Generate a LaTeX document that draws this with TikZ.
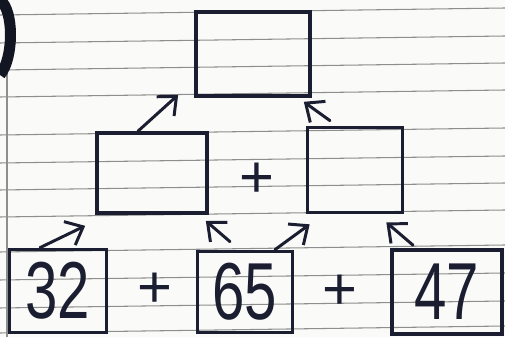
\documentclass[tikz,border=0pt]{standalone}
\usepackage{fontspec}
\setmainfont{Liberation Sans}
\usetikzlibrary{arrows.meta, positioning, calc}
\definecolor{Ink}{HTML}{1A1E30}
\definecolor{Rule}{HTML}{8E8E8E}
\definecolor{Paper}{HTML}{FAFAF8}

\begin{document}
\begin{tikzpicture}[
  x=0.02cm, y=-0.02cm,
  font=\fontsize{46}{46}\selectfont,
  slot/.style={draw=Ink, line width=2.1pt, inner sep=0pt, text=Ink},
  plus/.style={text=Ink, font=\fontsize{34}{34}\selectfont, inner sep=0pt},
  arrow/.style={-{Straight Barb[length=3mm, width=5.2mm]}, line width=1.7pt, line cap=round, draw=Ink},
  ruled/.style={draw=Rule, line width=0.6pt}
]
\useasboundingbox (0,0) rectangle (505,337);
\fill[Paper] (0,0) rectangle (505,337);
% ruled paper
\foreach \y in {15,43,70,97,135,163,190,217,252,280,308,333}
  \draw[ruled] (0,\y) -- (505,\y-7);
\draw[ruled] (7,0) -- (7,337);
\draw[line width=0.22cm, Ink!70!black] (0,0) .. controls (14,10) and (14,58) .. (0,75);

% boxes
\node[slot, minimum width=2.28cm, minimum height=1.68cm] (total) at (253,54) {};
\node[slot, minimum width=2.2cm, minimum height=1.6cm] (left) at (152,173) {};
\node[slot, minimum width=1.9cm, minimum height=1.7cm] (right) at (355,170) {};
\node[plus] (plusmid) at (257,180) {+};
\node[slot, minimum width=1.94cm, minimum height=1.66cm] (a) at (58,291) {\scalebox{0.72}[1]{32}};
\node[slot, minimum width=1.9cm, minimum height=1.62cm] (b) at (245,292) {\scalebox{0.72}[1]{65}};
\node[slot, minimum width=2.2cm, minimum height=1.68cm] (c) at (447,292) {\scalebox{0.72}[1]{47}};
\node[plus] (plusab) at (155,290) {+};
\node[plus] (plusbc) at (340,292) {+};

% arrows
\draw[arrow] ($(a.north)+(-18,0)$) -- ($(left.south west)+(-10,11)$);
\draw[arrow] ($(b.north)+(-15,-8)$) -- ($(left.south east)+(-3,6)$);
\draw[arrow] ($(b.north)+(30,0)$) -- ($(right.south west)+(4,10)$);
\draw[arrow] ($(c.north)+(-34,-3)$) -- ($(right.south east)+(-18,8)$);
\draw[arrow] ($(left.north)+(-14,0)$) -- ($(total.south west)+(-16,-3)$);
\draw[arrow] ($(right.north)+(-25,-5)$) -- ($(total.south east)+(-8,4)$);
\end{tikzpicture}
\end{document}
